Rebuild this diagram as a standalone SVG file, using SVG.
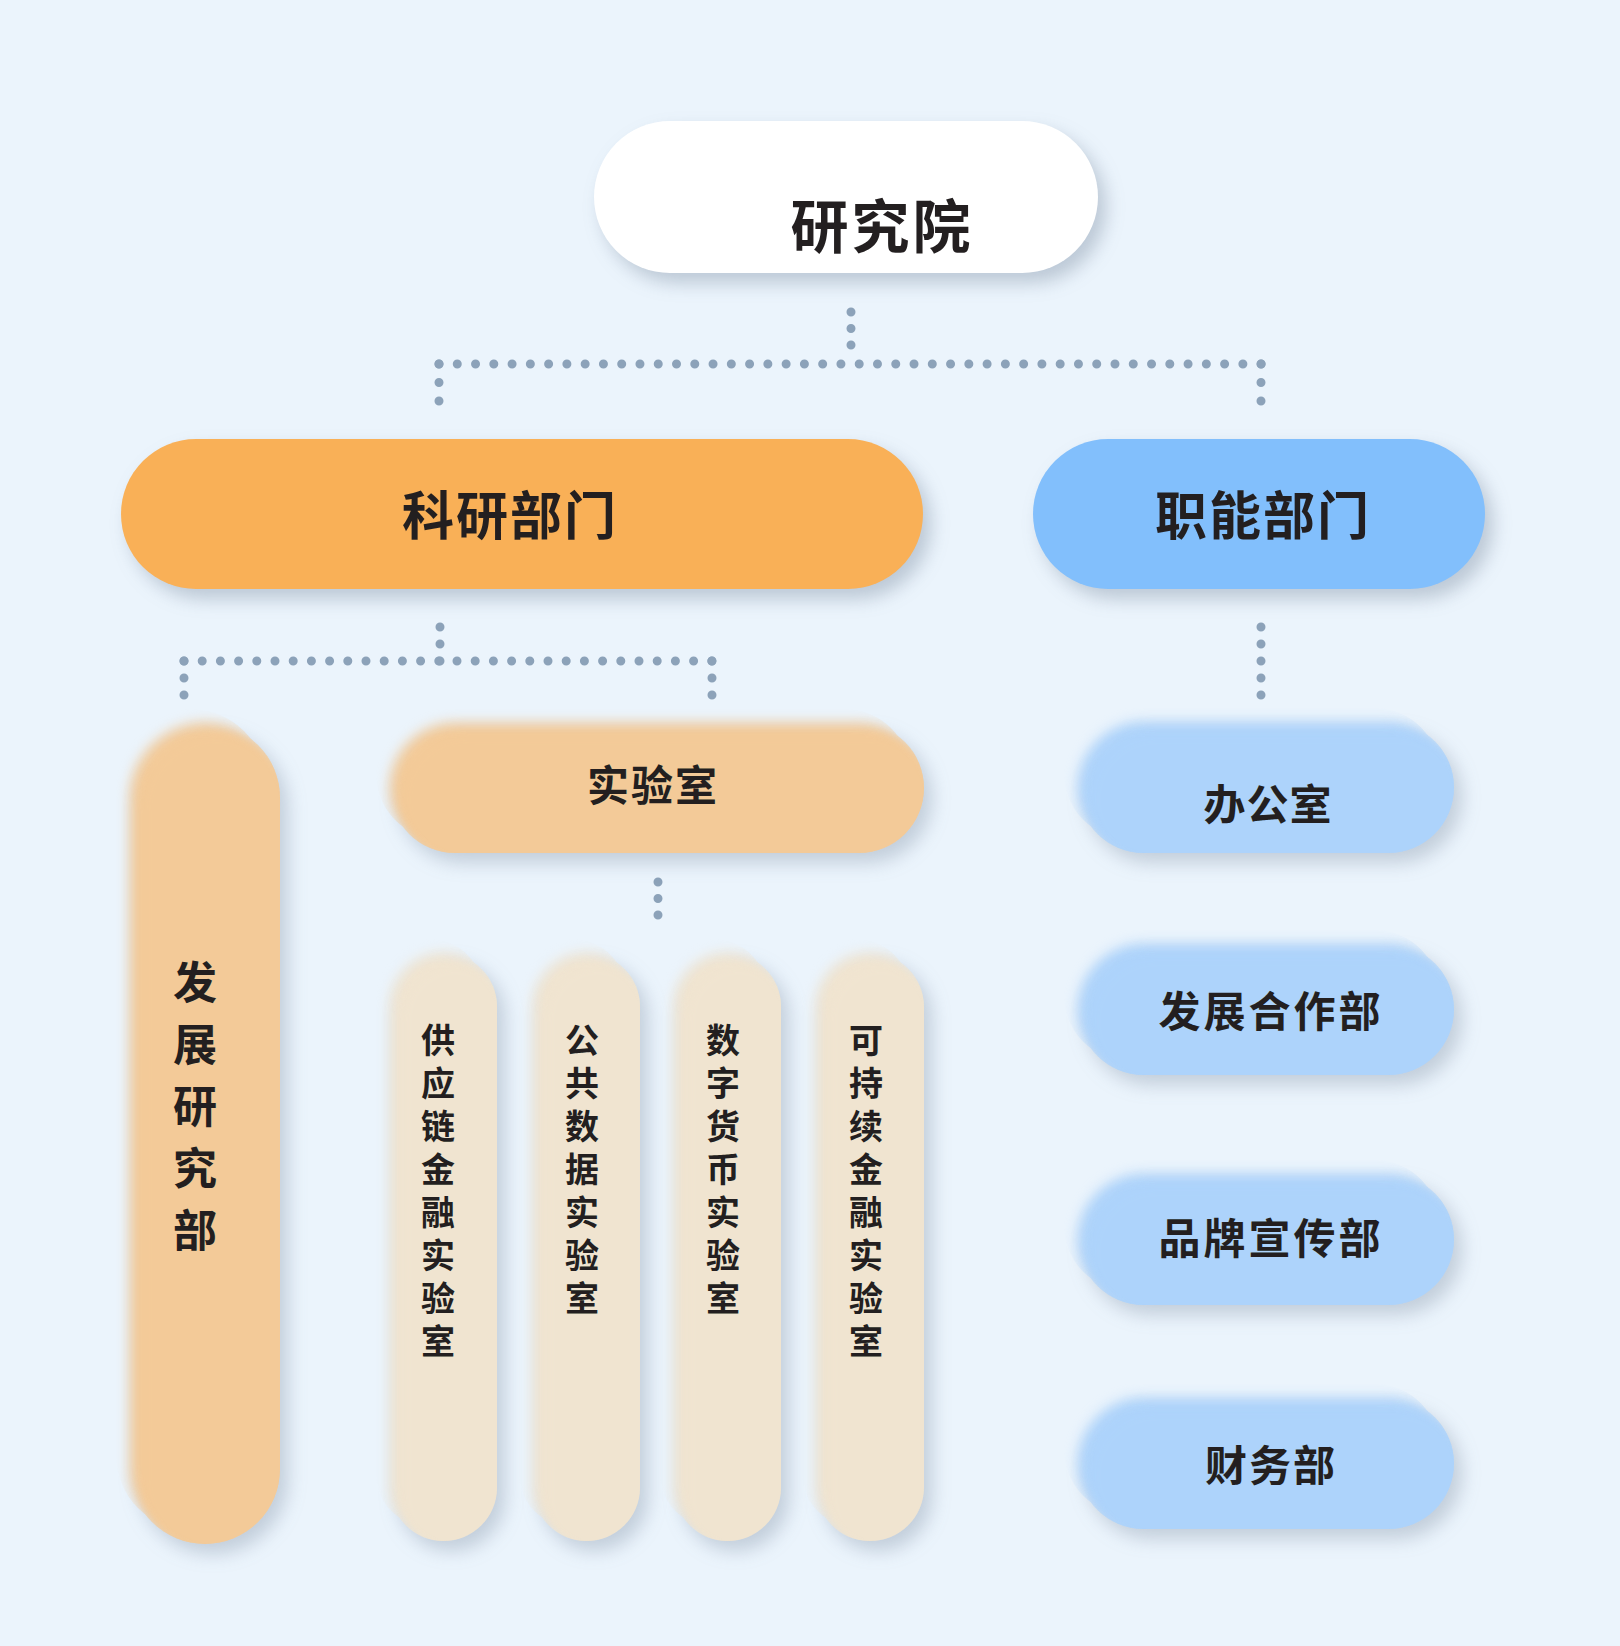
<svg xmlns="http://www.w3.org/2000/svg" width="1620" height="1646" viewBox="0 0 1620 1646">
<defs>
<style>
.t{font-family:"Noto Sans CJK SC","Noto Sans",sans-serif;font-weight:700;fill:#231F20;text-anchor:middle}
.v{font-size:34px}
.w{font-size:44px}
.dot{fill:none;stroke:#8CA2B9;stroke-width:9;stroke-linecap:round}
</style>
<filter id="drop" x="-20%" y="-40%" width="150%" height="190%" color-interpolation-filters="sRGB">
<feGaussianBlur in="SourceAlpha" stdDeviation="9" result="a"/>
<feOffset in="a" dx="8" dy="10" result="b"/>
<feFlood flood-color="#4f6580" flood-opacity="0.3" result="c"/>
<feComposite in="c" in2="b" operator="in" result="sh"/>
<feMerge><feMergeNode in="sh"/><feMergeNode in="SourceGraphic"/></feMerge>
</filter>
<filter id="soft" x="-50%" y="-40%" width="200%" height="180%" color-interpolation-filters="sRGB">
<feGaussianBlur in="SourceAlpha" stdDeviation="9" result="a"/>
<feOffset in="a" dx="8" dy="10" result="b"/>
<feFlood flood-color="#4f6580" flood-opacity="0.26" result="c"/>
<feComposite in="c" in2="b" operator="in" result="sh"/>
<feOffset in="SourceAlpha" dx="-14" dy="-14" result="ul"/>
<feMerge result="mask"><feMergeNode in="ul"/><feMergeNode in="SourceAlpha"/></feMerge>
<feGaussianBlur in="SourceGraphic" stdDeviation="6.5" result="bl"/>
<feComposite in="bl" in2="mask" operator="in" result="blm"/>
<feOffset in="SourceAlpha" dx="12" dy="12" result="dr"/>
<feGaussianBlur in="dr" stdDeviation="5" result="drb"/>
<feComposite in="SourceGraphic" in2="drb" operator="in" result="sharp"/>
<feMerge><feMergeNode in="sh"/><feMergeNode in="blm"/><feMergeNode in="sharp"/></feMerge>
</filter>
</defs>
<rect width="1620" height="1646" fill="#EBF4FC"/>

<g id="connectors">
<path class="dot" d="M851 312V345.5" stroke-dasharray="0 16.5"/>
<path class="dot" d="M439 364H1261.5" stroke-dasharray="0 18.27"/>
<path class="dot" d="M439 364V401.5" stroke-dasharray="0 18.5"/>
<path class="dot" d="M1261 364V401.5" stroke-dasharray="0 18.5"/>
<path class="dot" d="M440 627V661.5" stroke-dasharray="0 17"/>
<path class="dot" d="M184 661H712.5" stroke-dasharray="0 18.2"/>
<path class="dot" d="M184 661V695.5" stroke-dasharray="0 17"/>
<path class="dot" d="M712 661V695.5" stroke-dasharray="0 17"/>
<path class="dot" d="M1261 627V695.5" stroke-dasharray="0 17"/>
<path class="dot" d="M658 882V915.5" stroke-dasharray="0 16.5"/>
</g>

<g id="node-root">
<rect x="594" y="121" width="504" height="152" rx="76" fill="#FFFFFF" filter="url(#drop)"/>
<text class="t" x="882" y="248" font-size="58" letter-spacing="3">研究院</text>
</g>

<g id="node-keyan">
<rect x="121" y="439" width="802" height="150" rx="75" fill="#F9B057" filter="url(#drop)"/>
<text class="t" x="510" y="535" font-size="52" letter-spacing="2">科研部门</text>
</g>

<g id="node-zhineng">
<rect x="1033" y="439" width="452" height="150" rx="75" fill="#82BFFC" filter="url(#drop)"/>
<text class="t" x="1263" y="535" font-size="52" letter-spacing="2">职能部门</text>
</g>

<g id="node-fazhanyanjiu">
<rect x="130" y="723" width="150" height="821" rx="75" fill="#F3CA98" filter="url(#soft)"/>
<text class="t w" x="195" y="999">发</text>
<text class="t w" x="195" y="1061">展</text>
<text class="t w" x="195" y="1123">研</text>
<text class="t w" x="195" y="1185">究</text>
<text class="t w" x="195" y="1247">部</text>
</g>

<g id="node-shiyanshi">
<rect x="390" y="723" width="534" height="130" rx="65" fill="#F3CA98" filter="url(#soft)"/>
<text class="t" x="653" y="801" font-size="42" letter-spacing="2">实验室</text>
</g>

<g id="node-lab1">
<rect x="390" y="953" width="107" height="588" rx="53.5" fill="#F0E4D0" filter="url(#soft)"/>
<text class="t v" x="438" y="1053">供</text>
<text class="t v" x="438" y="1096">应</text>
<text class="t v" x="438" y="1139">链</text>
<text class="t v" x="438" y="1182">金</text>
<text class="t v" x="438" y="1225">融</text>
<text class="t v" x="438" y="1268">实</text>
<text class="t v" x="438" y="1311">验</text>
<text class="t v" x="438" y="1354">室</text>
</g>

<g id="node-lab2">
<rect x="533" y="953" width="107" height="588" rx="53.5" fill="#F0E4D0" filter="url(#soft)"/>
<text class="t v" x="582" y="1053">公</text>
<text class="t v" x="582" y="1096">共</text>
<text class="t v" x="582" y="1139">数</text>
<text class="t v" x="582" y="1182">据</text>
<text class="t v" x="582" y="1225">实</text>
<text class="t v" x="582" y="1268">验</text>
<text class="t v" x="582" y="1311">室</text>
</g>

<g id="node-lab3">
<rect x="674" y="953" width="107" height="588" rx="53.5" fill="#F0E4D0" filter="url(#soft)"/>
<text class="t v" x="723" y="1053">数</text>
<text class="t v" x="723" y="1096">字</text>
<text class="t v" x="723" y="1139">货</text>
<text class="t v" x="723" y="1182">币</text>
<text class="t v" x="723" y="1225">实</text>
<text class="t v" x="723" y="1268">验</text>
<text class="t v" x="723" y="1311">室</text>
</g>

<g id="node-lab4">
<rect x="816" y="953" width="108" height="588" rx="54" fill="#F0E4D0" filter="url(#soft)"/>
<text class="t v" x="866" y="1053">可</text>
<text class="t v" x="866" y="1096">持</text>
<text class="t v" x="866" y="1139">续</text>
<text class="t v" x="866" y="1182">金</text>
<text class="t v" x="866" y="1225">融</text>
<text class="t v" x="866" y="1268">实</text>
<text class="t v" x="866" y="1311">验</text>
<text class="t v" x="866" y="1354">室</text>
</g>

<g id="node-bangongshi">
<rect x="1078" y="722" width="376" height="131" rx="65.5" fill="#ADD3FB" filter="url(#soft)"/>
<text class="t" x="1268" y="820" font-size="42" letter-spacing="1">办公室</text>
</g>

<g id="node-fazhanhezuo">
<rect x="1078" y="944" width="376" height="131" rx="65.5" fill="#ADD3FB" filter="url(#soft)"/>
<text class="t" x="1271" y="1027" font-size="42" letter-spacing="3">发展合作部</text>
</g>

<g id="node-pinpai">
<rect x="1078" y="1174" width="376" height="131" rx="65.5" fill="#ADD3FB" filter="url(#soft)"/>
<text class="t" x="1271" y="1254" font-size="42" letter-spacing="3">品牌宣传部</text>
</g>

<g id="node-caiwu">
<rect x="1078" y="1398" width="376" height="131" rx="65.5" fill="#ADD3FB" filter="url(#soft)"/>
<text class="t" x="1271" y="1481" font-size="42" letter-spacing="2">财务部</text>
</g>
</svg>
